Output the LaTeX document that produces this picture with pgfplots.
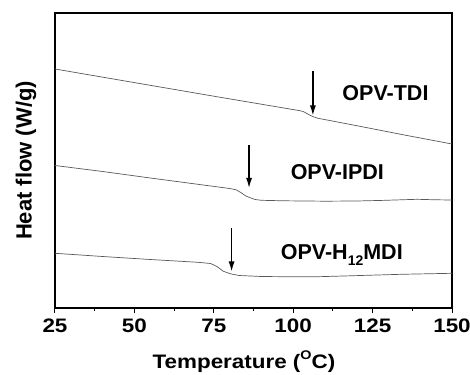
\documentclass[border=0pt]{standalone}
\usepackage{pgfplots}
\pgfplotsset{compat=1.18}
\usepackage{fontspec}
\setmainfont{Liberation Sans}
\newfontfamily\wide{Liberation Sans}[FakeStretch=1.15]
\usetikzlibrary{arrows.meta}
\begin{document}
\begin{tikzpicture}
\begin{axis}[
  scale only axis,
  width=397pt, height=295pt,
  xmin=25, xmax=150, ymin=-308, ymax=-13,
  xtick={25,50,75,100,125,150},
  minor x tick num=1,
  ytick=\empty,
  xtick pos=bottom,
  tick align=outside,
  major tick length=5pt,
  minor tick length=3pt,
  every tick/.style={black, line width=1pt},
  axis line style={line width=1.3pt},
  /pgf/number format/assume math mode=true,
  xticklabel style={font=\wide\bfseries\fontsize{19.5}{19.5}\selectfont, yshift=-2.5pt},
  every axis x label/.style={at={([yshift=-60pt]axis description cs:0.476,0)}, anchor=base},
  every axis y label/.style={at={([xshift=-23.3pt]axis description cs:0,0.5)}, rotate=90, anchor=base},
  xlabel={\wide\bfseries\fontsize{19.5}{19.5}\selectfont Temperature (\raisebox{0.42em}{\fontsize{12.5}{12.5}\selectfont O}C)},
  ylabel={\bfseries\fontsize{22}{22}\selectfont Heat flow (W/g)},
  clip=false,
]
% OPV-TDI
\addplot[black!65, line width=0.7pt] coordinates {
(25,-69) (50,-82.6) (75,-96.2) (102.1,-110.7) (103.2,-111.6) (104.2,-113.3)
(105.3,-115.3) (106.3,-116.7) (107.8,-118.3) (109.5,-119.3) (120,-125.7)
(135,-135) (150,-144)};
% OPV-IPDI
\addplot[black!65, line width=0.7pt] coordinates {
(25,-165.5) (40,-171.5) (55,-178) (70,-184.3) (80,-188.5) (82,-189.8)
(83.5,-192.5) (85,-195.8) (86.5,-197.8) (88,-199.5) (90,-200.3) (97,-200.8)
(110,-201.2) (120,-201) (128,-200.4) (139,-199.3) (145,-199.8) (150,-200)};
% OPV-H12MDI
\addplot[black!65, line width=0.7pt] coordinates {
(25,-253.3) (40,-256.5) (55,-259.5) (70,-262.3) (74,-263.5) (76,-266.5)
(78,-271.3) (80.5,-274) (83,-275.5) (90,-276.5) (100,-276.8) (108,-276.7)
(118,-275.8) (134,-274.3) (150,-273.3)};
% arrows
\draw[line width=1.3pt, -{Latex[length=10pt,width=6pt]}] (axis cs:106.2,-71.5) -- (axis cs:106.2,-115.5);
\draw[line width=1.3pt, -{Latex[length=10pt,width=6pt]}] (axis cs:86.1,-145.5) -- (axis cs:86.1,-188);
\draw[line width=1.3pt, -{Latex[length=10pt,width=6pt]}] (axis cs:80.6,-228.5) -- (axis cs:80.6,-271.5);
% labels
\node[anchor=base, font=\bfseries\fontsize{21.5}{21.5}\selectfont] at (axis cs:129.05,-101) {OPV-TDI};
\node[anchor=base, font=\bfseries\fontsize{21.5}{21.5}\selectfont] at (axis cs:113.9,-180) {OPV-IPDI};
\node[anchor=base, font=\bfseries\fontsize{21.5}{21.5}\selectfont] at (axis cs:115.3,-259.3) {OPV-H\raisebox{-0.28em}{\fontsize{14}{14}\selectfont 12}MDI};
\end{axis}
\pgfresetboundingbox
\path (-55pt,-66pt) rectangle (415pt,308pt);
\end{tikzpicture}
\end{document}
